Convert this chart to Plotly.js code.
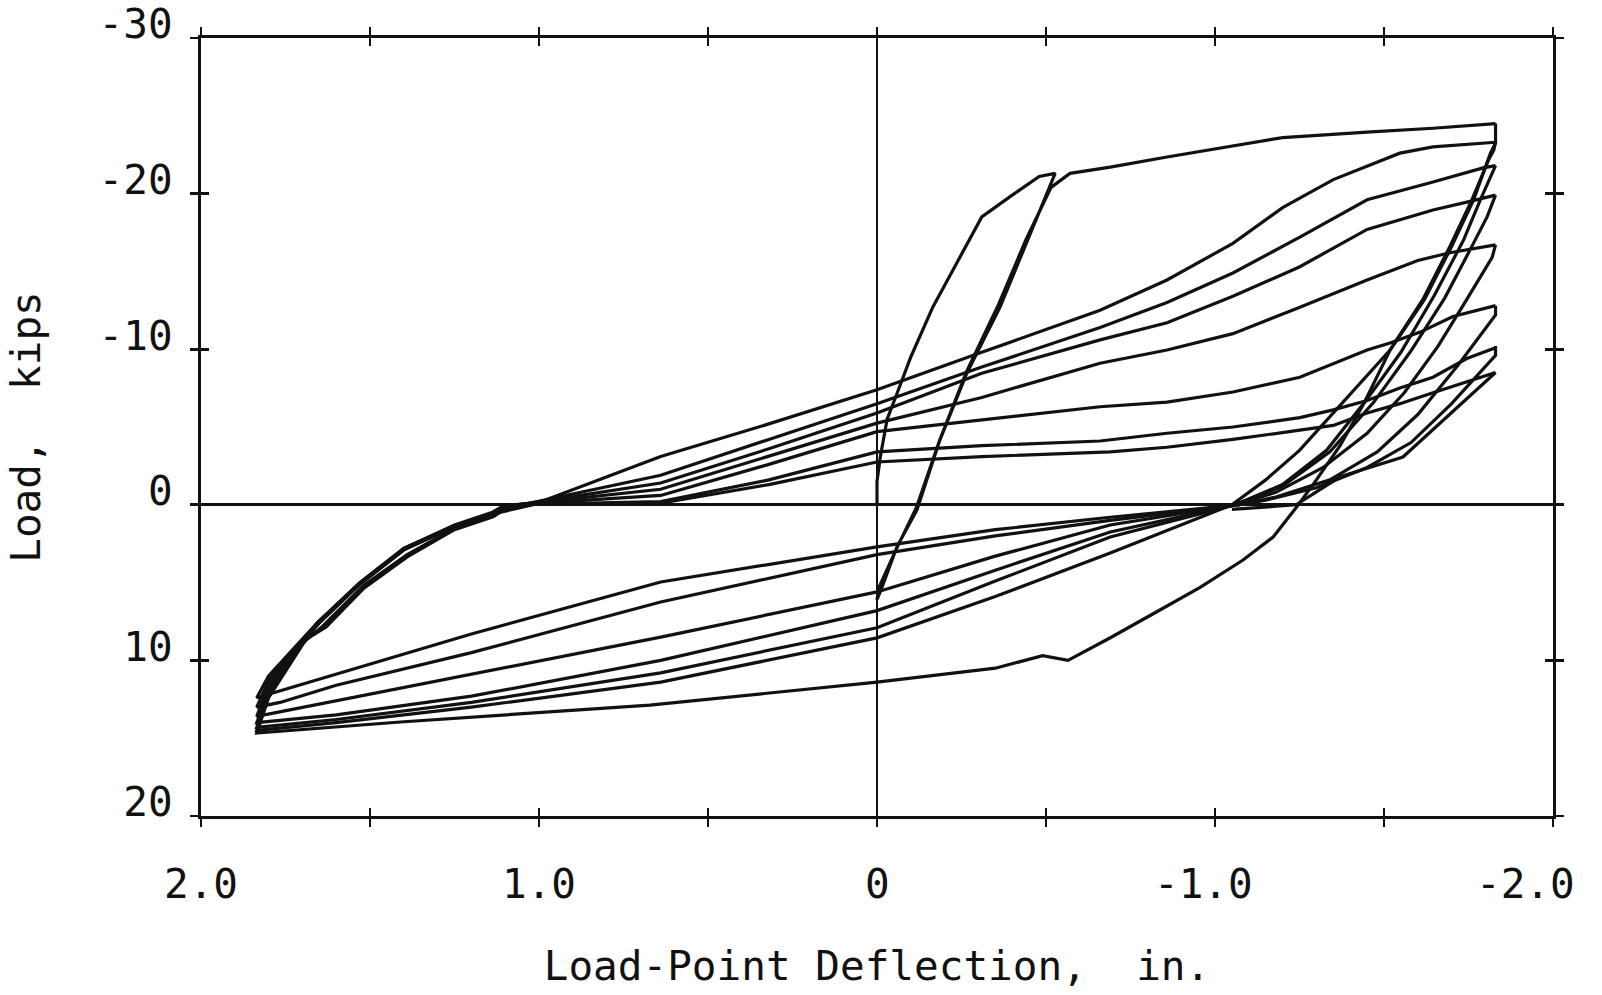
<!DOCTYPE html>
<html>
<head>
<meta charset="utf-8">
<script src="https://cdn.plot.ly/plotly-3.0.1.min.js"></script>
<style>html,body{margin:0;padding:0;background:#fff;}#chart{width:1602px;height:995px;}</style>
</head>
<body>
<div id="chart"></div>
<script>
// ---- data: load-point deflection (in.) and load (kips) ----
const virginX = [0, 0, -0.01, -0.03, -0.06, -0.10, -0.165, -0.22, -0.31, -0.40, -0.48, -0.527, -0.445, -0.364, -0.266, -0.186, -0.118, -0.059, -0.015, 0, -0.006, -0.056, -0.116, -0.186, -0.266, -0.36, -0.44, -0.515, -0.571, -0.69, -0.858, -1.2, -1.45, -1.645, -1.83];
const virginY = [0, -1.5, -3.1, -5.5, -7.2, -9.5, -12.7, -14.9, -18.5, -19.9, -21.1, -21.3, -17.0, -12.7, -8.47, -4.16, 0.34, 2.7, 5.3, 6.1, 5.3, 2.9, 0.2, -4.2, -8.6, -12.9, -17.0, -20.4, -21.3, -21.7, -22.35, -23.6, -23.95, -24.2, -24.5];

const cycle1X = [-1.83, -1.83, -1.815, -1.765, -1.70, -1.62, -1.518, -1.44, -1.37, -1.30, -1.243, -1.172, -1.083, -0.956, -0.837, -0.689, -0.565, -0.49, -0.35, 0, 0.672, 1.41, 1.835,
                 1.80, 1.70, 1.657, 1.53, 1.40, 1.25, 1.14, 1.018,
                 0.64, 0.32, 0, -0.31, -0.66, -0.858, -1.053, -1.2, -1.35, -1.547, -1.645, -1.83];
const cycle1Y = [-24.5, -23.25, -22.6, -19.6, -16.6, -13.2, -9.95, -6.5, -3.8, -1.6, 0.1, 2.07, 3.55, 5.3, 6.76, 8.56, 10.0, 9.7, 10.5, 11.4, 12.87, 13.96, 14.67,
                 12.4, 9.0, 7.7, 5.1, 2.9, 1.4, 0.6, 0,
                 -3.1, -5.2, -7.4, -9.8, -12.5, -14.45, -16.8, -19.1, -20.9, -22.6, -23.0, -23.3];

const cycle2X = [-1.83, -1.825, -1.81, -1.76, -1.695, -1.615, -1.518, -1.39, -1.25, -1.15, -1.05, -0.69, -0.35, 0, 0.64, 1.2, 1.6, 1.835,
                 1.80, 1.70, 1.657, 1.53, 1.40, 1.25, 1.14, 1.05,
                 0.64, 0.32, 0, -0.31, -0.66, -0.858, -1.053, -1.251, -1.45, -1.645, -1.793, -1.83];
const cycle2Y = [-23.3, -22.8, -22.2, -19.6, -16.6, -13.2, -9.95, -6.9, -3.5, -1.6, 0, 3.1, 5.9, 8.55, 11.4, 13.0, 14.0, 14.5,
                 12.2, 8.9, 7.6, 5.0, 2.8, 1.35, 0.55, 0,
                 -1.9, -4.2, -6.5, -8.85, -11.4, -13.0, -14.9, -17.2, -19.6, -20.75, -21.65, -21.8];

const cycle3X = [-1.83, -1.785, -1.735, -1.65, -1.55, -1.45, -1.33, -1.20, -1.06, -0.69, -0.35, 0, 0.64, 1.2, 1.6, 1.835,
                 1.80, 1.70, 1.65, 1.53, 1.40, 1.25, 1.14, 1.06,
                 0.64, 0.32, 0, -0.31, -0.66, -0.858, -1.053, -1.251, -1.45, -1.645, -1.745, -1.83];
const cycle3Y = [-21.8, -19.6, -17.0, -13.5, -9.8, -6.8, -3.5, -1.3, 0, 2.07, 4.9, 7.9, 10.8, 12.7, 13.8, 14.3,
                 12.0, 8.8, 7.6, 5.1, 2.9, 1.4, 0.6, 0,
                 -1.4, -3.6, -5.9, -8.45, -10.6, -11.7, -13.4, -15.3, -17.7, -18.95, -19.45, -19.9];

const cycle4X = [-1.83, -1.805, -1.755, -1.68, -1.58, -1.47, -1.34, -1.20, -1.06, -0.69, -0.35, 0, 0.64, 1.2, 1.6, 1.835,
                 1.80, 1.70, 1.64, 1.52, 1.39, 1.25, 1.14, 1.07,
                 0.64, 0.32, 0, -0.31, -0.66, -0.858, -1.053, -1.251, -1.45, -1.6, -1.695, -1.83];
const cycle4Y = [-19.9, -18.5, -16.4, -13.3, -9.9, -6.6, -3.4, -1.2, 0, 1.75, 4.2, 6.8, 10.0, 12.3, 13.5, 14.0,
                 11.9, 8.9, 7.8, 5.2, 3.2, 1.5, 0.65, 0,
                 -1.0, -3.1, -5.25, -6.9, -9.1, -9.95, -11.0, -12.7, -14.45, -15.7, -16.2, -16.7];

const cycle5X = [-1.83, -1.82, -1.745, -1.66, -1.56, -1.45, -1.32, -1.18, -1.06, -0.69, -0.35, 0, 0.64, 1.2, 1.6, 1.835,
                 1.80, 1.70, 1.63, 1.52, 1.39, 1.25, 1.136, 1.08,
                 0.64, 0.32, 0, -0.31, -0.66, -0.858, -1.053, -1.251, -1.45, -1.518, -1.607, -1.704, -1.83];
const cycle5Y = [-16.7, -15.9, -13.2, -10.2, -7.2, -4.6, -2.4, -0.8, 0, 1.3, 3.3, 5.6, 8.5, 10.9, 12.6, 13.6,
                 11.6, 8.8, 7.85, 5.4, 3.35, 1.6, 0.77, 0,
                 -0.6, -2.6, -4.7, -5.45, -6.3, -6.6, -7.25, -8.2, -9.95, -10.4, -11.1, -12.1, -12.8];

const cycle6X = [-1.83, -1.83, -1.72, -1.60, -1.48, -1.34, -1.18, -1.07, -0.69, -0.35, 0, 0.64, 1.2, 1.6, 1.766, 1.835,
                 1.80, 1.70, 1.63, 1.52, 1.39, 1.25, 1.14, 1.09,
                 0.64, 0.32, 0, -0.31, -0.66, -0.858, -1.053, -1.251, -1.35, -1.45, -1.547, -1.645, -1.745, -1.83];
const cycle6Y = [-12.8, -12.2, -9.0, -5.8, -3.4, -1.6, -0.5, 0, 1.0, 2.0, 3.2, 6.25, 9.5, 11.6, 12.7, 13.0,
                 11.3, 8.7, 7.8, 5.3, 3.3, 1.5, 0.7, 0,
                 -0.2, -1.6, -3.4, -3.8, -4.1, -4.6, -5.0, -5.6, -6.1, -6.7, -7.5, -8.2, -9.4, -10.1];

const cycle7X = [-1.83, -1.83, -1.70, -1.58, -1.45, -1.30, -1.15, -1.07, -0.69, -0.35, 0, 0.64, 1.2, 1.737, 1.835,
                 1.80, 1.70, 1.657, 1.53, 1.40, 1.25, 1.14, 1.10,
                 0.64, 0.32, 0, -0.31, -0.69, -0.858, -1.053, -1.251, -1.35, -1.45, -1.547, -1.645, -1.745, -1.83];
const cycle7Y = [-10.2, -9.6, -6.5, -4.0, -2.4, -1.1, -0.3, 0, 0.8, 1.6, 2.7, 4.96, 8.3, 11.8, 12.4,
                 11.0, 8.6, 7.6, 5.0, 2.8, 1.3, 0.5, 0,
                 -0.1, -1.3, -2.75, -3.1, -3.4, -3.7, -4.2, -4.8, -5.1, -5.9, -6.5, -7.2, -7.9, -8.5];

const finalX = [-1.83, -1.556, -1.37, -1.24, -1.05];
const finalY = [-8.5, -3.07, -1.8, 0, 0.3];

const xTickVals = [2, 1.5, 1, 0.5, 0, -0.5, -1, -1.5, -2];
const xLabelVals = [2, 1, 0, -1, -2];
const xLabelText = ['2.0', '1.0', '0', '-1.0', '-2.0'];
const yTickVals = [-30, -20, -10, 0, 10, 20];
const yTickText = ['-30', '-20', '-10', '0', '10', '20'];

// ---- drawing ----
const series = [
  [virginX, virginY], [cycle1X, cycle1Y], [cycle2X, cycle2Y], [cycle3X, cycle3Y],
  [cycle4X, cycle4Y], [cycle5X, cycle5Y], [cycle6X, cycle6Y], [cycle7X, cycle7Y], [finalX, finalY]
];
const traces = series.map(s => ({
  x: s[0], y: s[1], type: 'scatter', mode: 'lines',
  line: {color: '#111', width: 3.2}, hoverinfo: 'skip', showlegend: false
}));
traces.push({x: [], y: [], xaxis: 'x2', yaxis: 'y2', type: 'scatter', mode: 'lines', showlegend: false});

const FONT = '"DejaVu Sans Mono", monospace';
// x tick labels: minus-signed labels hang to the left of their tick; the last one sits further in
const xLabels = xLabelVals.map((v, i) => {
  let shift = xLabelText[i].startsWith('-') ? -12 : 0;
  if (i === xLabelVals.length - 1) shift = -28;
  return {
    x: v, xref: 'x', y: 0, yref: 'paper', yanchor: 'middle', yshift: -68,
    xanchor: 'center', xshift: shift,
    text: xLabelText[i], showarrow: false, font: {family: FONT, size: 41, color: '#111'}
  };
});

const axBase = {
  showgrid: false, showline: true, linecolor: '#111', linewidth: 3.2,
  ticklen: 8, tickwidth: 2.8, tickcolor: '#111', mirror: 'ticks'
};
const layout = {
  width: 1602, height: 995,
  margin: {l: 201, r: 49, t: 38, b: 179},
  paper_bgcolor: '#fff', plot_bgcolor: '#fff',
  font: {family: FONT, color: '#111'},
  annotations: xLabels,
  xaxis: Object.assign({}, axBase, {
    range: [2, -2], tickmode: 'array', tickvals: xTickVals, showticklabels: false,
    ticks: 'outside', zeroline: true, zerolinecolor: '#111', zerolinewidth: 2.6,
    title: {text: 'Load-Point Deflection,  in.', font: {family: FONT, size: 41}, standoff: 126}
  }),
  yaxis: Object.assign({}, axBase, {
    range: [20, -30], tickmode: 'array', tickvals: yTickVals, ticktext: yTickText,
    ticks: 'outside', zeroline: true, zerolinecolor: '#111', zerolinewidth: 2.6,
    tickfont: {family: FONT, size: 41}, ticklabelstandoff: 9, ticklabelshift: 14,
    ticklabeloverflow: 'allow',
    title: {text: 'Load,  kips', font: {family: FONT, size: 41}, standoff: 46}
  }),
  xaxis2: Object.assign({}, axBase, {
    overlaying: 'x', anchor: 'y2', range: [2, -2], tickmode: 'array', tickvals: xTickVals,
    ticks: 'inside', showticklabels: false, zeroline: false
  }),
  yaxis2: Object.assign({}, axBase, {
    overlaying: 'y', anchor: 'x2', range: [20, -30], tickmode: 'array', tickvals: yTickVals,
    ticks: 'inside', showticklabels: false, zeroline: false
  })
};
Plotly.newPlot('chart', traces, layout, {staticPlot: true, displayModeBar: false});
</script>
</body>
</html>
